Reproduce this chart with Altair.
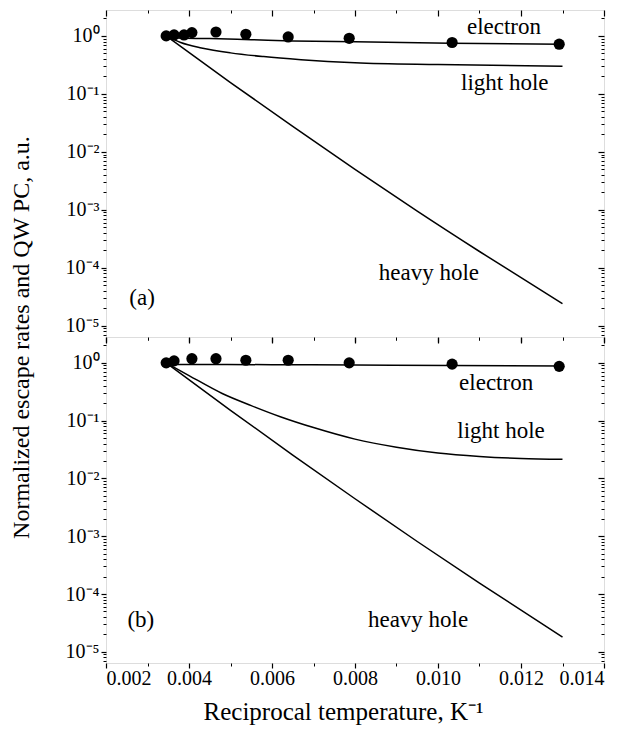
import altair as alt
import pandas as pd

FONT = "Liberation Serif"
W = 498
H_A = 327
H_B = 326

# ---------------- axes ----------------
x_domain = [0.002, 0.014]
x_ticks = [0.002, 0.004, 0.006, 0.008, 0.010, 0.012, 0.014]
x_minor = [0.003, 0.005, 0.007, 0.009, 0.011, 0.013]
y_domain = [6.4e-6, 2.8]
y_ticks = [1e-5, 1e-4, 1e-3, 1e-2, 1e-1, 1]
y_tick_labels = ["10⁻⁵", "10⁻⁴", "10⁻³", "10⁻²", "10⁻¹", "10⁰"]
y_minor = [m * 10.0 ** k for k in range(-6, 1) for m in range(2, 10)
           if y_domain[0] <= m * 10.0 ** k <= y_domain[1]]

x_title = "Reciprocal temperature, K⁻¹"
y_title = "Normalized escape rates and QW PC, a.u."

# ---------------- panel (a) ----------------
a_pts_x = [0.00345, 0.00364, 0.00388, 0.00407, 0.00465, 0.00537, 0.00639, 0.00786, 0.01034, 0.01292]
a_pts_y = [1.00, 1.04, 1.04, 1.14, 1.17, 1.07, 0.96, 0.91, 0.77, 0.72]
a_elec_x = [0.00345, 0.0037, 0.0045, 0.0055, 0.0065, 0.0080, 0.0103, 0.0130]
a_elec_y = [1.00, 0.92, 0.90, 0.86, 0.82, 0.79, 0.75, 0.72]
a_lh_x = [0.00345, 0.0038, 0.0043, 0.0050, 0.0058, 0.0067, 0.0080, 0.0100, 0.0130]
a_lh_y = [1.00, 0.77, 0.62, 0.51, 0.44, 0.39, 0.345, 0.32, 0.30]
a_hh_x = [0.00345, 0.0050, 0.0065, 0.0080, 0.0095, 0.0110, 0.0130]
a_hh_y = [1.0, 0.157, 0.0274, 5.0e-3, 9.5e-4, 1.91e-4, 2.4e-5]
a_lab = ["electron", "light hole", "heavy hole", "(a)"]
a_lab_x = [0.01159, 0.01161, 0.00978, 0.00287]
a_lab_y = [1.45, 0.156, 8.0e-5, 3.0e-5]

# ---------------- panel (b) ----------------
b_pts_x = [0.00345, 0.00364, 0.00407, 0.00465, 0.00537, 0.00639, 0.00786, 0.01034, 0.01292]
b_pts_y = [1.00, 1.08, 1.18, 1.18, 1.11, 1.11, 1.00, 0.95, 0.87]
b_elec_x = [0.00345, 0.0037, 0.0060, 0.0080, 0.0103, 0.0130]
b_elec_y = [1.00, 0.94, 0.93, 0.92, 0.90, 0.88]
b_lh_x = [0.00345, 0.0040, 0.0048, 0.0055, 0.0062, 0.0070, 0.0080, 0.0090, 0.0100, 0.0110, 0.0120, 0.0130]
b_lh_y = [1.0, 0.603, 0.295, 0.182, 0.117, 0.0759, 0.0479, 0.0347, 0.0275, 0.0240, 0.0221, 0.0214]
b_hh_x = [0.00345, 0.0050, 0.0065, 0.0080, 0.0095, 0.0110, 0.0130]
b_hh_y = [1.0, 0.151, 0.0254, 4.45e-3, 8.1e-4, 1.55e-4, 1.8e-5]
b_lab = ["electron", "light hole", "heavy hole", "(b)"]
b_lab_x = [0.0114, 0.01152, 0.00952, 0.00284]
b_lab_y = [0.44, 0.065, 3.6e-5, 3.5e-5]


def lines_df(ex, ey, lx, ly, hx, hy):
    rows = []
    for name, xs, ys in (("electron", ex, ey), ("light hole", lx, ly), ("heavy hole", hx, hy)):
        for xv, yv in zip(xs, ys):
            rows.append({"series": name, "x": xv, "y": yv})
    return pd.DataFrame(rows)


label_js = "[" + ",".join("'" + s + "'" for s in y_tick_labels) + "]"
label_expr = label_js + "[round(log(datum.value)/LN10)+5]"

xs = alt.Scale(domain=x_domain, nice=False, zero=False)
ys = alt.Scale(type="log", domain=y_domain, nice=False)


def panel(ldf, pdf, tdf, h, bottom, with_title):
    y_main_kw = dict(orient="left", values=y_ticks, labelExpr=label_expr, tickSize=5,
                     tickWidth=1.2, tickColor="black", domain=False, grid=False,
                     labelFont=FONT, labelFontSize=20, labelColor="black", labelPadding=2)
    if with_title:
        y_main_kw.update(title=y_title, titleFont=FONT, titleFontSize=24, titleFontWeight="normal",
                         titleColor="black", titleX=-85, titleY=h, titleAngle=270,
                         titleAlign="center", titleBaseline="middle")
    else:
        y_main_kw.update(title=None)
    x_main_kw = dict(orient="bottom", values=x_ticks, tickSize=5, tickWidth=1.2,
                     tickColor="black", domain=False, grid=False)
    if bottom:
        x_main_kw.update(format=".3f", labelFont=FONT, labelFontSize=20, labelColor="black",
                         labelPadding=0, title=x_title, titleFont=FONT, titleFontSize=25,
                         titleFontWeight="normal", titleColor="black", titlePadding=11,
                         titleX=237, titleAlign="center")
    else:
        x_main_kw.update(labels=False, title=None)

    line = alt.Chart(ldf).mark_line(color="black", strokeWidth=1.5, interpolate="monotone").encode(
        x=alt.X("x:Q", scale=xs, axis=alt.Axis(**x_main_kw)),
        y=alt.Y("y:Q", scale=ys, axis=alt.Axis(**y_main_kw)),
        detail="series:N",
    )
    pts = alt.Chart(pdf).mark_circle(size=125, color="black", opacity=1).encode(
        x=alt.X("x:Q", scale=xs, axis=alt.Axis(orient="bottom", values=x_minor, tickSize=3,
                                               tickColor="black", labels=False, domain=False,
                                               grid=False, title=None)),
        y=alt.Y("y:Q", scale=ys, axis=alt.Axis(orient="left", values=y_minor, tickSize=3,
                                               tickColor="black", labels=False, domain=False,
                                               grid=False, title=None)),
    )
    txt = alt.Chart(tdf).mark_text(font=FONT, fontSize=23, color="black",
                                   align="center", baseline="middle").encode(
        x=alt.X("x:Q", scale=xs, axis=alt.Axis(orient="bottom", offset=-h, values=x_ticks,
                                               tickSize=6, tickWidth=1.2, tickColor="black",
                                               labels=False, domain=False, grid=False, title=None)),
        y=alt.Y("y:Q", scale=ys, axis=alt.Axis(orient="left", offset=-W, values=y_ticks,
                                               tickSize=6, tickWidth=1.2, tickColor="black",
                                               labels=False, domain=False, grid=False, title=None)),
        text="label:N",
    )
    ghost = alt.Chart(pdf).mark_point(opacity=0).encode(
        x=alt.X("x:Q", scale=xs, axis=alt.Axis(orient="bottom", offset=-h, values=x_minor,
                                               tickSize=3, tickColor="black", labels=False,
                                               domain=False, grid=False, title=None)),
        y=alt.Y("y:Q", scale=ys, axis=alt.Axis(orient="left", offset=-W, values=y_minor,
                                               tickSize=3, tickColor="black", labels=False,
                                               domain=False, grid=False, title=None)),
    )
    return alt.layer(line, pts, txt, ghost).resolve_axis(x="independent", y="independent").properties(
        width=W, height=h)


top = panel(
    lines_df(a_elec_x, a_elec_y, a_lh_x, a_lh_y, a_hh_x, a_hh_y),
    pd.DataFrame({"x": a_pts_x, "y": a_pts_y}),
    pd.DataFrame({"label": a_lab, "x": a_lab_x, "y": a_lab_y}),
    H_A, bottom=False, with_title=True,
)
bot = panel(
    lines_df(b_elec_x, b_elec_y, b_lh_x, b_lh_y, b_hh_x, b_hh_y),
    pd.DataFrame({"x": b_pts_x, "y": b_pts_y}),
    pd.DataFrame({"label": b_lab, "x": b_lab_x, "y": b_lab_y}),
    H_B, bottom=True, with_title=False,
)

chart = alt.vconcat(top, bot, spacing=0, bounds="flush").properties(
    padding={"left": 0, "top": 0, "right": 5, "bottom": 5}
).configure_view(stroke="black", strokeWidth=1.5).configure(background="white")

chart.save("out.html", embed_options={"renderer": "svg", "actions": False})
